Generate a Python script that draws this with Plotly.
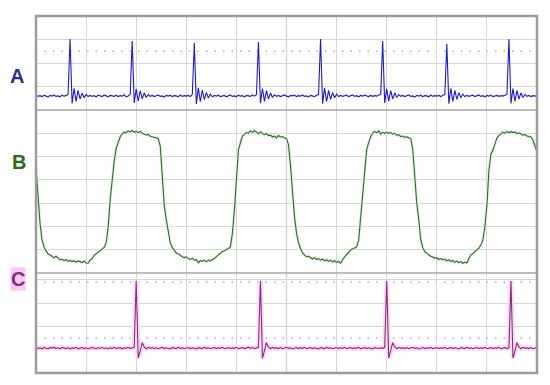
import numpy as np
import plotly.graph_objects as go
from plotly.subplots import make_subplots

# sampling grid (divisions), 0.04 div per sample
time_start = 0.0
time_step = 0.04
n_samples = 251

trace_a = [
    0.62,0.58,0.61,0.57,0.63,0.60,0.55,0.62,0.59,0.64,
    0.58,0.60,0.56,0.63,0.59,0.61,0.66,3.02,0.28,0.92,
    0.36,0.84,0.46,0.72,0.52,0.66,0.57,0.62,0.58,0.61,
    0.55,0.63,0.60,0.57,0.64,0.59,0.56,0.62,0.60,0.58,
    0.63,0.57,0.61,0.59,0.65,0.56,0.60,0.66,2.94,0.30,
    0.90,0.38,0.82,0.47,0.73,0.53,0.66,0.58,0.62,0.57,
    0.61,0.64,0.58,0.60,0.55,0.62,0.59,0.63,0.57,0.61,
    0.60,0.56,0.64,0.58,0.61,0.59,0.62,0.57,0.66,2.85,
    0.26,0.94,0.35,0.85,0.44,0.75,0.51,0.67,0.56,0.62,
    0.59,0.63,0.57,0.60,0.62,0.56,0.61,0.64,0.58,0.60,
    0.57,0.63,0.59,0.61,0.55,0.62,0.60,0.58,0.64,0.59,
    0.65,2.89,0.29,0.91,0.37,0.83,0.46,0.72,0.53,0.65,
    0.58,0.62,0.57,0.61,0.64,0.59,0.56,0.62,0.60,0.63,
    0.57,0.61,0.59,0.64,0.58,0.60,0.55,0.62,0.61,0.57,
    0.63,0.66,3.02,0.27,0.93,0.36,0.84,0.45,0.74,0.52,
    0.67,0.57,0.62,0.58,0.61,0.63,0.57,0.60,0.64,0.58,
    0.61,0.56,0.62,0.59,0.63,0.60,0.57,0.62,0.58,0.61,
    0.59,0.64,0.66,2.94,0.30,0.90,0.38,0.82,0.47,0.73,
    0.53,0.66,0.58,0.62,0.57,0.61,0.64,0.58,0.60,0.55,
    0.62,0.59,0.63,0.57,0.61,0.60,0.56,0.64,0.58,0.61,
    0.59,0.62,0.57,0.63,0.66,2.81,0.27,0.92,0.36,0.84,
    0.45,0.74,0.52,0.67,0.57,0.62,0.58,0.61,0.63,0.57,
    0.60,0.64,0.58,0.61,0.56,0.62,0.59,0.63,0.57,0.60,
    0.62,0.58,0.61,0.59,0.64,0.66,3.02,0.28,0.91,0.37,
    0.83,0.46,0.73,0.53,0.66,0.58,0.62,0.57,0.61,0.59,0.62,
]

trace_b = [
    4.55,3.26,2.15,1.42,1.12,0.95,0.82,0.77,0.70,0.66,
    0.72,0.62,0.56,0.60,0.53,0.58,0.50,0.55,0.49,0.53,
    0.46,0.52,0.47,0.45,0.51,0.43,0.42,0.55,0.62,0.75,
    0.82,0.90,0.96,1.04,1.10,1.29,1.95,3.13,4.12,4.80,
    5.35,5.60,5.85,5.98,6.05,6.02,6.10,6.06,6.12,6.04,
    6.09,6.02,6.08,6.00,5.98,5.93,5.95,5.87,5.85,5.82,
    5.80,5.78,5.45,4.00,2.90,2.30,1.72,1.30,1.10,0.95,
    0.86,0.82,0.74,0.70,0.66,0.69,0.62,0.58,0.63,0.55,
    0.57,0.44,0.53,0.50,0.56,0.48,0.55,0.52,0.58,0.62,
    0.70,0.78,0.86,0.92,0.96,0.99,1.05,1.12,1.70,2.70,
    4.20,5.28,5.60,5.88,5.95,6.03,6.00,6.10,6.04,6.12,
    6.05,5.98,6.06,6.01,5.94,5.99,5.90,5.92,5.85,5.88,
    5.80,5.90,5.84,5.86,5.80,5.78,5.50,4.60,3.30,2.40,
    1.72,1.29,1.05,0.86,0.77,0.70,0.72,0.64,0.60,0.66,
    0.58,0.62,0.55,0.60,0.52,0.57,0.50,0.55,0.47,0.53,
    0.46,0.50,0.42,0.58,0.70,0.80,0.88,0.99,1.03,1.08,
    1.12,1.40,2.40,3.40,4.60,5.30,5.60,5.85,6.00,6.08,
    6.02,6.10,5.97,6.04,5.99,6.05,6.00,6.03,5.96,6.00,
    5.92,5.94,5.86,5.88,5.82,5.86,5.80,5.78,5.30,4.10,
    3.00,2.30,1.42,1.10,0.92,0.84,0.76,0.72,0.69,0.64,
    0.66,0.58,0.62,0.56,0.60,0.52,0.57,0.49,0.54,0.46,
    0.51,0.44,0.49,0.42,0.47,0.43,0.62,0.77,0.84,0.92,
    0.98,1.07,1.20,1.42,2.00,2.90,4.40,5.10,5.28,5.50,
    5.80,5.90,6.00,6.05,6.00,6.08,6.02,6.07,6.03,6.06,
    5.98,6.02,5.97,5.92,5.95,5.88,5.86,5.84,5.70,5.40,5.20,
]

trace_c = [
    1.09,1.05,1.08,1.04,1.10,1.06,1.03,1.09,1.07,1.11,
    1.05,1.08,1.04,1.10,1.07,1.05,1.09,1.03,1.08,1.06,
    1.10,1.04,1.07,1.09,1.05,1.08,1.03,1.06,1.10,1.07,
    1.04,1.08,1.06,1.09,1.05,1.07,1.03,1.08,1.06,1.10,
    1.05,1.07,1.09,1.04,1.08,1.06,1.10,1.05,1.08,1.10,
    3.95,0.64,0.95,1.30,1.12,1.04,1.10,1.06,1.09,1.05,
    1.08,1.04,1.07,1.10,1.05,1.08,1.06,1.03,1.09,1.07,
    1.05,1.10,1.06,1.08,1.04,1.07,1.09,1.05,1.08,1.06,
    1.03,1.09,1.07,1.05,1.10,1.06,1.08,1.04,1.07,1.09,
    1.05,1.08,1.06,1.10,1.04,1.07,1.09,1.05,1.08,1.06,
    1.10,1.04,1.07,1.09,1.05,1.08,1.11,1.06,1.09,1.05,
    1.08,1.10,3.95,0.64,0.95,1.30,1.12,1.04,1.10,1.06,
    1.08,1.05,1.09,1.04,1.07,1.10,1.06,1.08,1.03,1.07,
    1.09,1.05,1.08,1.06,1.10,1.04,1.07,1.09,1.05,1.08,
    1.06,1.03,1.09,1.07,1.05,1.10,1.06,1.08,1.04,1.07,
    1.09,1.05,1.08,1.06,1.10,1.04,1.07,1.09,1.05,1.08,
    1.06,1.10,1.04,1.07,1.09,1.05,1.08,1.06,1.03,1.09,
    1.07,1.05,1.08,1.06,1.10,3.95,0.64,0.95,1.30,1.12,
    1.04,1.10,1.06,1.08,1.05,1.09,1.04,1.07,1.10,1.06,
    1.08,1.03,1.07,1.09,1.05,1.08,1.06,1.10,1.04,1.07,
    1.09,1.05,1.08,1.06,1.10,1.04,1.07,1.09,1.05,1.08,
    1.06,1.03,1.09,1.07,1.05,1.10,1.06,1.08,1.04,1.07,
    1.09,1.05,1.08,1.06,1.10,1.04,1.07,1.09,1.05,1.08,
    1.06,1.10,1.04,1.07,1.09,1.05,1.08,3.95,0.64,0.95,
    1.30,1.12,1.04,1.10,1.06,1.08,1.05,1.09,1.04,1.07,1.08,
]

channel_labels = ["A", "B", "C"]
x_divisions = 10
panel_divisions = [4, 7, 100 / 23.3]   # vertical divisions per panel
dotted_a = [2.5]
dotted_c = [1.5, 3.9]

t = time_start + time_step * np.arange(n_samples)

# page body adds an 8px offset; target plot area in window px: x 36..537, y 16..373
OFF = 8
PX0, PX1, PY0, PY1 = 36, 537, 16, 373
W, H = 550 - OFF, 385 - OFF
ML, MT = PX0 - OFF, PY0 - OFF
MR, MB = 550 - PX1, 385 - PY1
plot_w = PX1 - PX0
plot_h = PY1 - PY0

fig = make_subplots(rows=3, cols=1, shared_xaxes=True, vertical_spacing=0,
                    row_heights=[94, 163, 100])

grid_col = "#d6d6d6"
dark_col = "#a6a6a6"

fig.add_trace(go.Scatter(x=t, y=trace_a, mode="lines",
                         line=dict(color="#1c1cd8", width=1.1),
                         hoverinfo="skip"), row=1, col=1)
fig.add_trace(go.Scatter(x=t, y=trace_b, mode="lines",
                         line=dict(color="#e3f2e0", width=3),
                         hoverinfo="skip"), row=2, col=1)
fig.add_trace(go.Scatter(x=t, y=trace_b, mode="lines",
                         line=dict(color="#2f6a2f", width=1.1),
                         hoverinfo="skip"), row=2, col=1)
fig.add_trace(go.Scatter(x=t, y=trace_c, mode="lines",
                         line=dict(color="#fbdcf3", width=5),
                         hoverinfo="skip"), row=3, col=1)
fig.add_trace(go.Scatter(x=t, y=trace_c, mode="lines",
                         line=dict(color="#8c2a7e", width=1.1),
                         hoverinfo="skip"), row=3, col=1)

for r, nd in zip([1, 2, 3], panel_divisions):
    fig.update_xaxes(range=[0, x_divisions], dtick=1, showgrid=True,
                     gridcolor=grid_col, gridwidth=1, zeroline=False,
                     showticklabels=False, ticks="", showline=False,
                     row=r, col=1)
    fig.update_yaxes(range=[0, nd], dtick=1, tick0=0, showgrid=True,
                     gridcolor=grid_col, gridwidth=1, zeroline=False,
                     showticklabels=False, ticks="", showline=False,
                     row=r, col=1)

# centre vertical line (darker)
fig.add_shape(type="line", xref="x", yref="paper", x0=5, x1=5, y0=0, y1=1,
              line=dict(color=dark_col, width=1.2), layer="below")

# dotted reference lines
for yv in dotted_a:
    fig.add_shape(type="line", xref="x", yref="y", x0=0, x1=x_divisions,
                  y0=yv, y1=yv, line=dict(color="#b0b0b0", width=1.5,
                                          dash="1.5px,7px"), layer="below")
for yv in dotted_c:
    fig.add_shape(type="line", xref="x3", yref="y3", x0=0, x1=x_divisions,
                  y0=yv, y1=yv, line=dict(color="#b0b0b0", width=1.5,
                                          dash="1.5px,7px"), layer="below")

# panel separators
sep1 = (PY1 - 110) / plot_h
sep2 = (PY1 - 273) / plot_h
for s in [sep1, sep2]:
    fig.add_shape(type="line", xref="paper", yref="paper", x0=0, x1=1,
                  y0=s, y1=s, line=dict(color=dark_col, width=1.5))

# outer frame
fig.add_shape(type="rect", xref="paper", yref="paper", x0=0, x1=1, y0=0, y1=1,
              line=dict(color="#9c9c9c", width=2.5))

label_pos = [(17, 76, "#2b2f8f", None), (19, 162, "#2d6a24", None),
             (18, 279, "#8e2a88", "#f8c9f0")]
for lab, (px, py, col, bg) in zip(channel_labels, label_pos):
    fig.add_annotation(text="<b>%s</b>" % lab, xref="paper", yref="paper",
                       x=(px - PX0) / plot_w, y=(PY1 - py) / plot_h,
                       xanchor="center", yanchor="middle", showarrow=False,
                       font=dict(family="Liberation Sans, Arial", size=20,
                                 color=col),
                       bgcolor=bg if bg else "rgba(0,0,0,0)", borderpad=0)

fig.update_layout(width=W, height=H, showlegend=False,
                  margin=dict(l=ML, r=MR, t=MT, b=MB, autoexpand=False),
                  paper_bgcolor="white", plot_bgcolor="white")

fig.write_html("out.html")
